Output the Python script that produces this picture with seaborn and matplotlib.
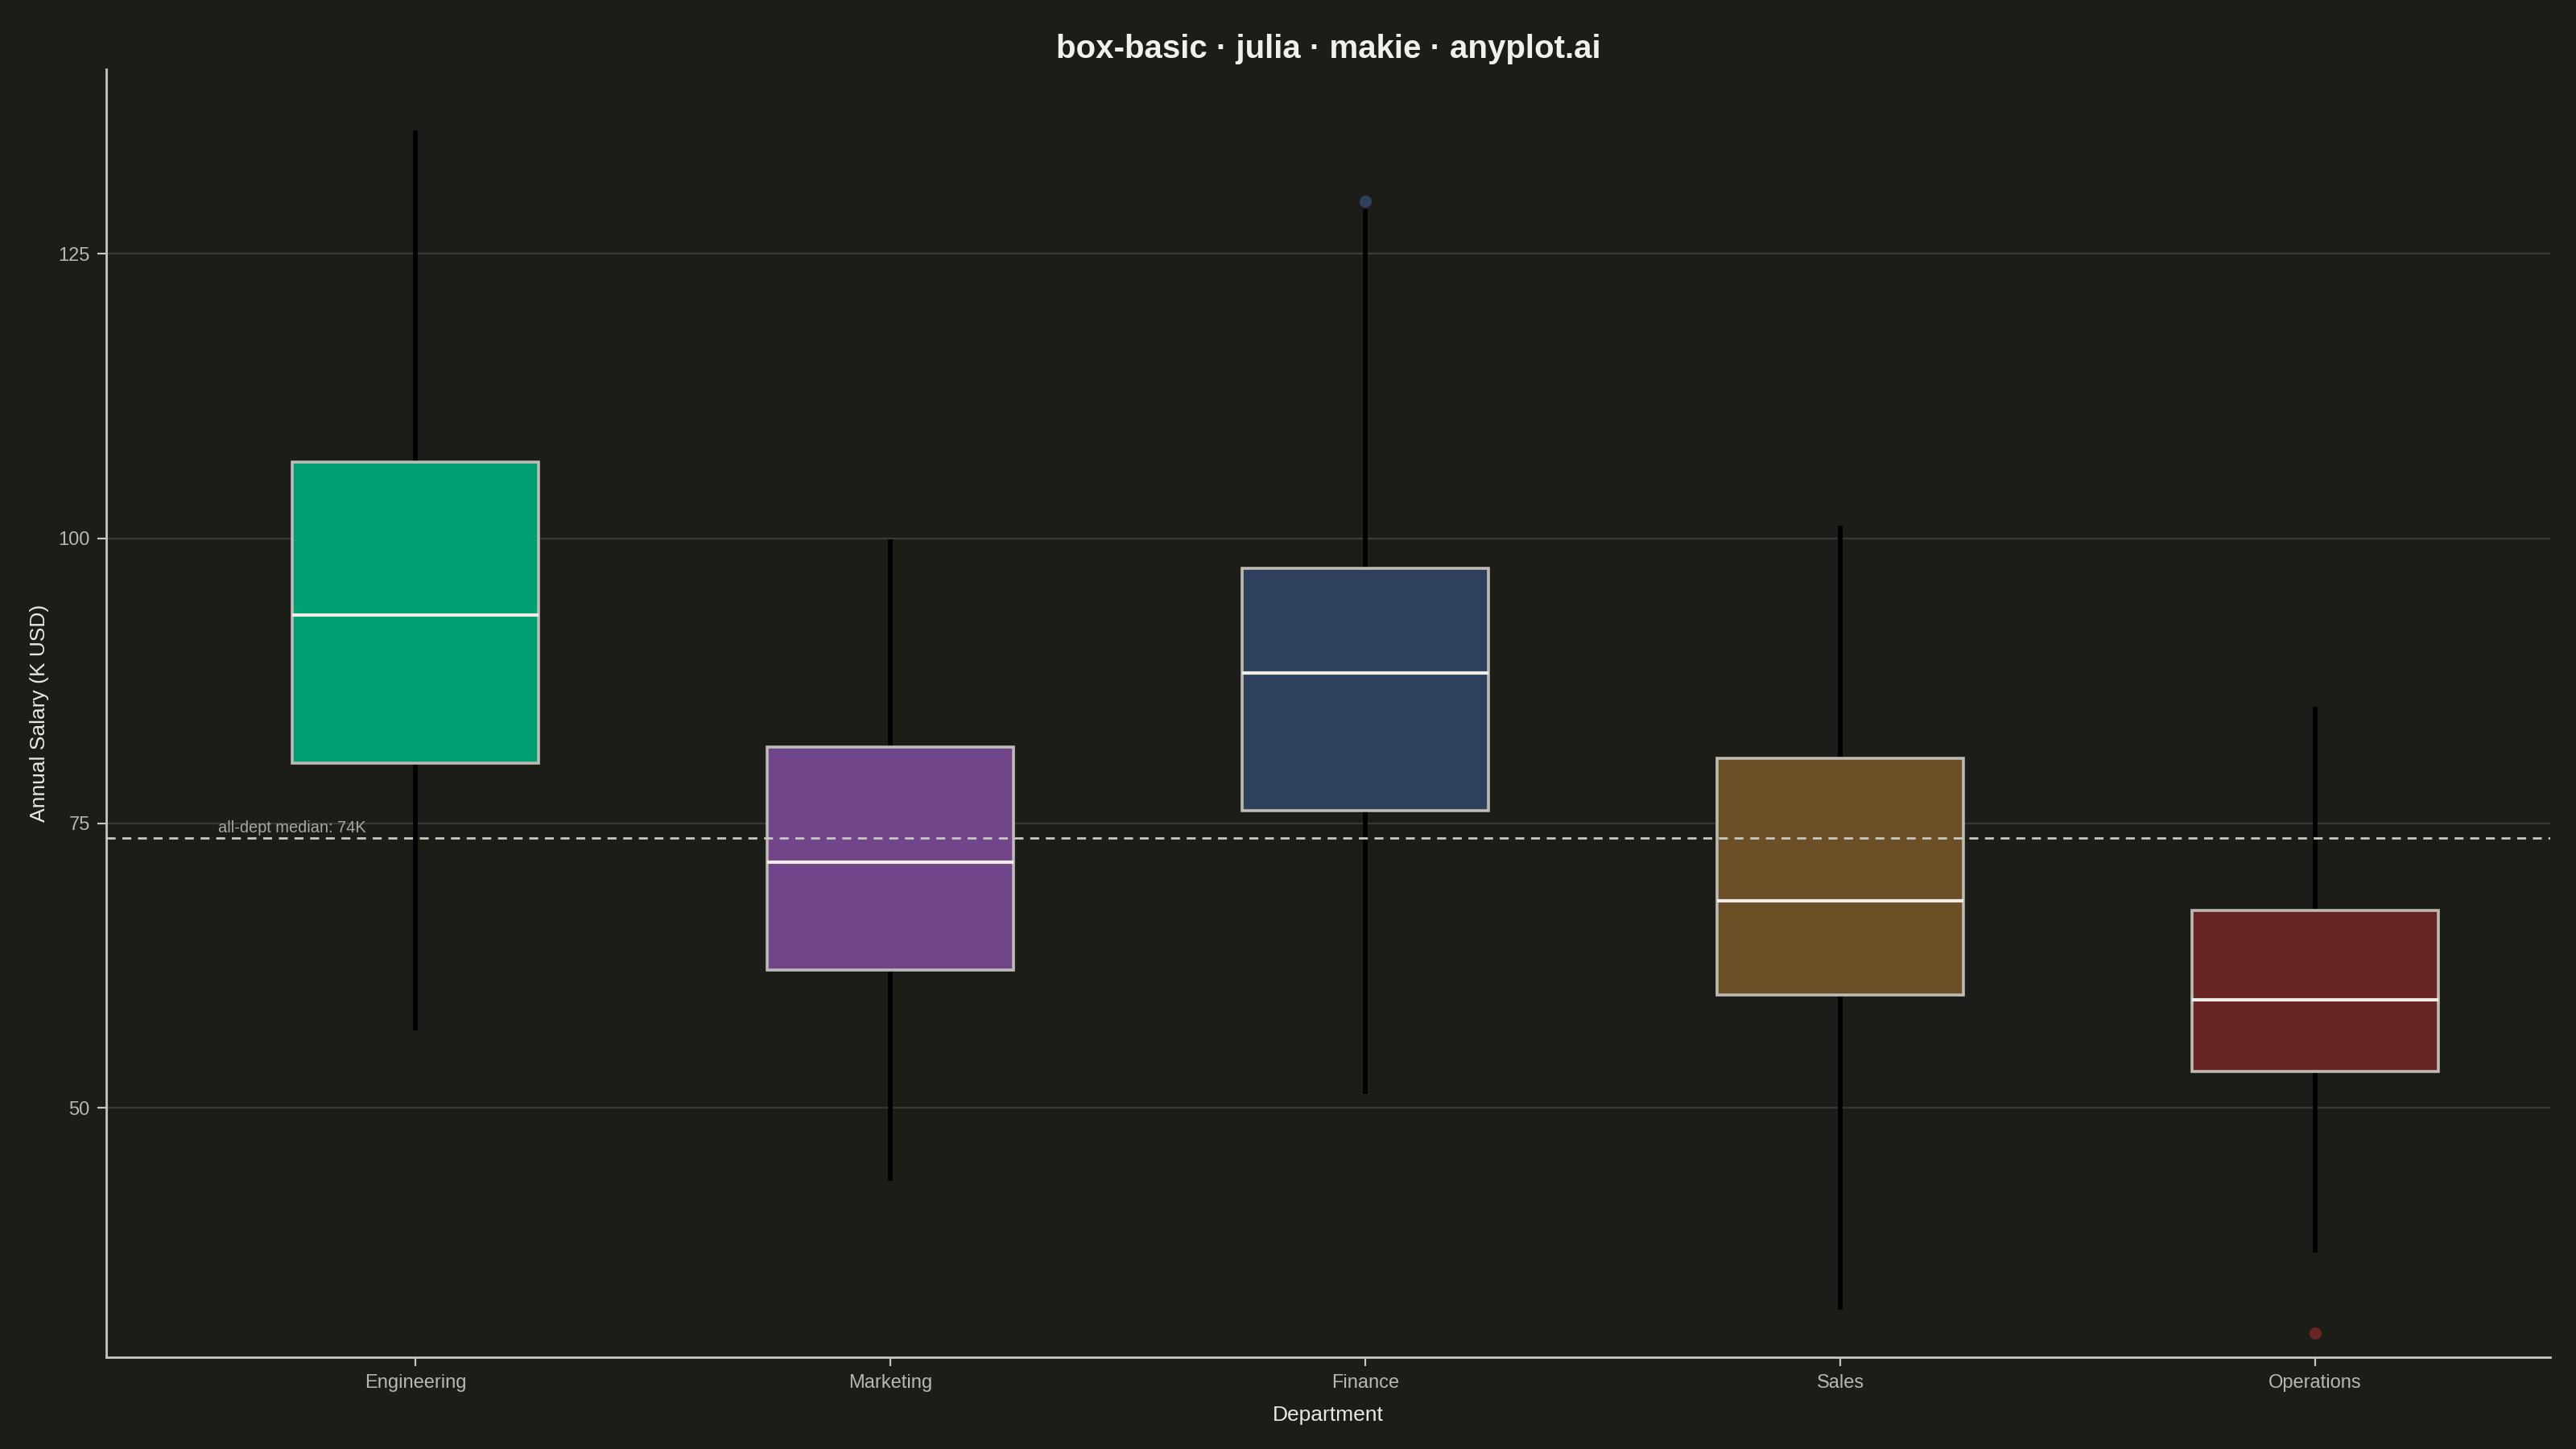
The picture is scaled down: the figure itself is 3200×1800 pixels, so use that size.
"""Box plot of annual salary by department (dark theme)."""

import pandas as pd
import matplotlib.pyplot as plt
import seaborn as sns

# Values (K USD)
departments = ['Engineering', 'Marketing', 'Finance', 'Sales', 'Operations']
whisker_low = [56.8, 43.6, 51.2, 32.3, 37.3]
q1 = [80.3, 62.1, 76.1, 59.9, 53.2]
median = [93.3, 71.6, 88.2, 68.2, 59.5]
q3 = [106.7, 81.7, 97.4, 80.7, 67.3]
whisker_high = [135.8, 99.9, 128.9, 101.1, 85.2]
outliers = [[], [], [129.6], [], [30.2]]
overall_median = 74

colors = ['#009e73', '#704589', '#2e405c', '#6b4f26', '#682523']

BG = '#1c1c18'
INK = '#e9e7e0'
INK_SOFT = '#b9b7b0'
GRID = '#3a3a35'

# Build samples whose quartiles / whisker ends reproduce the values above
rows = []
for i, dept in enumerate(departments):
	vals = [whisker_low[i], q1[i], q1[i], median[i], median[i],
			q3[i], q3[i], whisker_high[i]] + outliers[i]
	for v in vals:
		rows.append({'department': dept, 'salary': v})
df = pd.DataFrame(rows)

sns.set_style('white')
plt.rcParams['font.family'] = ['Liberation Sans', 'DejaVu Sans']

fig = plt.figure(figsize=(16, 9), dpi=200, facecolor=BG)
ax = fig.add_axes([0.0414, 0.0633, 0.9486, 0.8889])
ax.set_facecolor(BG)

sns.boxplot(
	data=df,
	x='department',
	y='salary',
	hue='department',
	order=departments,
	hue_order=departments,
	palette=colors,
	dodge=False,
	legend=False,
	width=0.52,
	showcaps=False,
	linecolor='#bdbbb4',
	linewidth=1.3,
	whiskerprops={'color': 'black', 'linewidth': 2.1},
	medianprops={'color': '#efede6', 'linewidth': 1.5},
	flierprops={'marker': 'o', 'markersize': 5.5, 'markeredgewidth': 0},
	saturation=1,
	ax=ax,
)

# colour each outlier like its box
for cont, col in zip(ax.containers, colors):
	for fl in cont.fliers:
		fl.set_markerfacecolor(col)
		fl.set_markeredgecolor(col)
	for w in cont.whiskers:
		w.set_zorder(1)

# overall median reference line
ax.axhline(overall_median - 0.3, color='#c9c7c0', linewidth=1.0,
		   linestyle=(0, (4, 3)), zorder=3)
ax.text(-0.415, overall_median - 0.1, f'all-dept median: {overall_median}K',
		color='#a9a7a0', fontsize=7.2, ha='left', va='bottom')

ax.set_xlim(-0.65, 4.495)
ax.set_ylim(28.1, 141.2)
ax.set_yticks([50, 75, 100, 125])
ax.yaxis.grid(True, color=GRID, linewidth=0.8)
ax.set_axisbelow(True)

for side in ['top', 'right']:
	ax.spines[side].set_visible(False)
for side in ['left', 'bottom']:
	ax.spines[side].set_color('#c8c6bf')
	ax.spines[side].set_linewidth(1.0)

ax.tick_params(axis='both', colors='#c8c6bf', labelcolor=INK_SOFT,
			   labelsize=8.5, length=4, width=0.8, direction='out', left=True, bottom=True)

ax.set_xlabel('Department', color=INK, fontsize=9.5, labelpad=6)
ax.set_ylabel('Annual Salary (K USD)', color=INK, fontsize=9.5, labelpad=4)
ax.set_title('box-basic · julia · makie · anyplot.ai', color='#f2f0ea',
			 fontsize=14.5, fontweight='bold', pad=5)

plt.savefig('out.png', dpi=200, facecolor=BG)
plt.close()
